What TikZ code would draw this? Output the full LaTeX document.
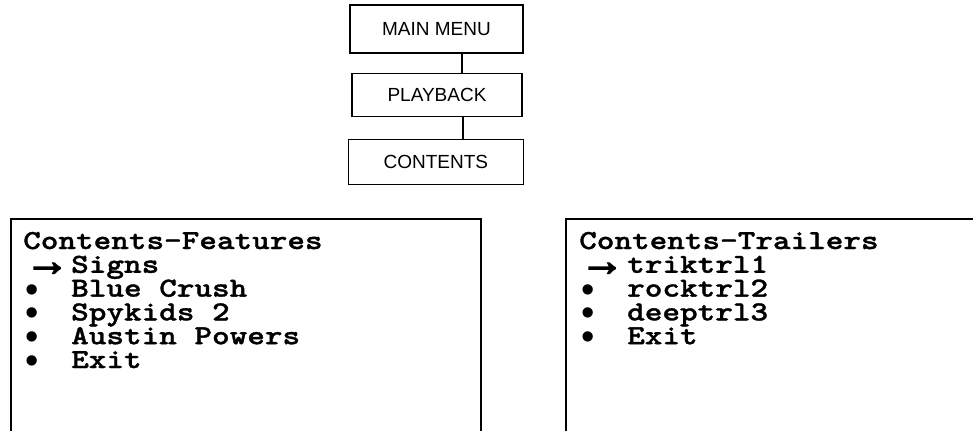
\documentclass[tikz,border=0pt]{standalone}
\usepackage{fontspec}
\setmainfont{Liberation Sans}
\newfontfamily\cour{lmmonolt10-bold.otf}[FakeStretch=1.22,FakeBold=1.2]
\newfontfamily\bulf{Liberation Sans}
\newfontfamily\arrf{Liberation Sans}[FakeBold=3.5]
\begin{document}
\begin{tikzpicture}[x=1pt,y=-1pt,
  menubox/.style={draw, line width=1.3pt, inner sep=0pt, font=\fontsize{19}{19}\selectfont},
  scr/.style={line width=1.5pt},
  mtext/.style={anchor=base west, inner sep=0pt, font=\cour\fontsize{27.5}{27.5}\selectfont},
  bullsym/.style={anchor=base west, inner sep=0pt, font=\bulf\fontsize{38}{38}\selectfont},
  arrsym/.style={anchor=base west, inner sep=0pt, font=\arrf\fontsize{44}{44}\selectfont}]
\useasboundingbox (0,0) rectangle (973,431);
% top menu chain
\node[menubox, minimum width=173pt, minimum height=48pt] (main) at (436.5,29) {MAIN MENU};
\node[menubox, minimum width=170pt, minimum height=43pt] (play) at (437,94.7) {PLAYBACK};
\node[menubox, minimum width=175pt, minimum height=45pt] (cont) at (435.8,161.8) {CONTENTS};
\draw[line width=1.3pt] ([xshift=25.5pt]main.south) -- ([xshift=25.5pt]main.south |- play.north);
\draw[line width=1.3pt] ([xshift=26pt]play.south) -- ([xshift=26pt]play.south |- cont.north);
% screens
\draw[scr] (11,431) -- (11,219) -- (481,219) -- (481,431);
\draw[scr] (566,431) -- (566,219) -- (973,219);
% left screen
\node[mtext] (lt) at (23,249) {Contents—Features};
\node[arrsym] (la1) at (25,275.5) {→};
\node[mtext] (l1) at (71,272.8) {Signs};
\node[bullsym] (lb2) at (25,302) {•};
\node[mtext] (l2) at (71,296.6) {Blue Crush};
\node[bullsym] (lb3) at (25,325.8) {•};
\node[mtext] (l3) at (71,320.4) {Spykids 2};
\node[bullsym] (lb4) at (25,349.6) {•};
\node[mtext] (l4) at (71,344.2) {Austin Powers};
\node[bullsym] (lb5) at (25,373.4) {•};
\node[mtext] (l5) at (71,368) {Exit};
% right screen
\node[mtext] (rt) at (579,249) {Contents—Trailers};
\node[arrsym] (ra1) at (580,275.5) {→};
\node[mtext] (r1) at (627,272.8) {triktrl1};
\node[bullsym] (rb2) at (581,302) {•};
\node[mtext] (r2) at (627,296.6) {rocktrl2};
\node[bullsym] (rb3) at (581,325.8) {•};
\node[mtext] (r3) at (627,320.4) {deeptrl3};
\node[bullsym] (rb4) at (581,349.6) {•};
\node[mtext] (r4) at (627,344.2) {Exit};
\end{tikzpicture}
\end{document}
